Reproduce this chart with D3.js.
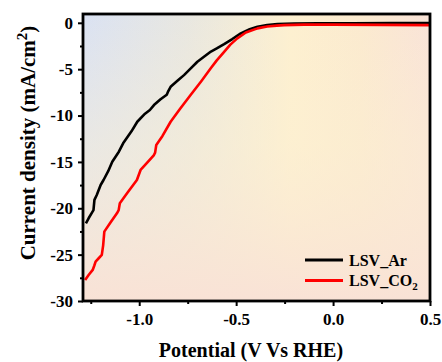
<!DOCTYPE html>
<html>
<head>
<meta charset="utf-8">
<script src="https://cdn.jsdelivr.net/npm/d3@7"></script>
<style>
  html, body { margin: 0; padding: 0; background: #ffffff; }
  svg { display: block; }
  text { font-family: "Liberation Serif", "Times New Roman", serif; font-weight: bold; fill: #000; }
</style>
</head>
<body>
<svg id="chart" width="442" height="362"></svg>
<script>
// ---- data ----
const arPotential = [-1.275, -1.261, -1.243, -1.236, -1.231, -1.219, -1.199, -1.184, -1.160, -1.139, -1.105, -1.083, -1.040, -1.010, -0.970, -0.945, -0.924, -0.890, -0.858, -0.852, -0.838, -0.800, -0.769, -0.738, -0.700, -0.666, -0.630, -0.600, -0.562, -0.520, -0.476, -0.430, -0.390, -0.340, -0.287, -0.200, -0.080, 0.100, 0.300, 0.500];
const arCurrent   = [-21.62, -21.08, -20.45, -20.20, -19.10, -18.57, -17.49, -16.95, -16.00, -14.98, -13.90, -13.00, -11.70, -10.67, -9.80, -9.40, -8.87, -8.25, -7.75, -7.45, -6.90, -6.20, -5.64, -4.99, -4.20, -3.66, -3.10, -2.76, -2.30, -1.75, -1.14, -0.70, -0.43, -0.25, -0.14, -0.08, -0.05, -0.04, -0.03, -0.03];
const co2Potential = [-1.279, -1.261, -1.240, -1.232, -1.225, -1.209, -1.193, -1.186, -1.180, -1.150, -1.115, -1.106, -1.100, -1.060, -1.012, -0.993, -0.960, -0.924, -0.918, -0.912, -0.880, -0.838, -0.790, -0.735, -0.680, -0.631, -0.600, -0.562, -0.530, -0.494, -0.450, -0.390, -0.340, -0.290, -0.253, -0.150, 0.000, 0.250, 0.500];
const co2Current   = [-27.73, -27.20, -26.65, -26.20, -25.75, -25.39, -25.03, -24.00, -22.52, -21.60, -20.54, -20.20, -19.45, -18.30, -16.95, -15.87, -15.10, -14.26, -14.00, -13.18, -12.20, -10.67, -9.30, -7.79, -6.30, -4.91, -4.05, -3.13, -2.35, -1.68, -1.05, -0.60, -0.40, -0.30, -0.25, -0.20, -0.20, -0.22, -0.25];

const seriesNames  = ["LSV_Ar", "LSV_CO2"];
const seriesColors = ["#000000", "#ff0000"];

const xMajorTicks = [-1.0, -0.5, 0.0, 0.5];
const xMinorTicks = [-1.25, -0.75, -0.25, 0.25];
const xTickLabels = ["-1.0", "-0.5", "0.0", "0.5"];
const yMajorTicks = [0, -5, -10, -15, -20, -25, -30];
const yMinorTicks = [-2.5, -7.5, -12.5, -17.5, -22.5, -27.5];
const yTickLabels = ["0", "-5", "-10", "-15", "-20", "-25", "-30"];

// ---- layout ----
const svg = d3.select("#chart");
const pL = 83, pR = 430, pT = 14, pB = 301;

const x = d3.scaleLinear().domain([-1.29, 0.5]).range([pL, pR]);
const y = d3.scaleLinear().domain([-30, 0.95]).range([pB, pT]);

// background gradients
const defs = svg.append("defs");
const gh = defs.append("linearGradient").attr("id", "gh").attr("x1", "0").attr("y1", "0").attr("x2", "1").attr("y2", "0");
[[0, "#dae2f3"], [0.3, "#e8e7e1"], [0.6, "#fdf0d0"], [0.8, "#fbeacf"], [1, "#f9e3d8"]].forEach(([o, c]) =>
  gh.append("stop").attr("offset", o).attr("stop-color", c));
const gv = defs.append("linearGradient").attr("id", "gv").attr("x1", "0").attr("y1", "0").attr("x2", "0").attr("y2", "1");
[[0, "#fdf0d2", 0], [0.45, "#fcefd2", 0.45], [1, "#f9e2d6", 1]].forEach(([o, c, a]) =>
  gv.append("stop").attr("offset", o).attr("stop-color", c).attr("stop-opacity", a));

svg.append("rect").attr("x", pL).attr("y", pT).attr("width", pR - pL).attr("height", pB - pT).attr("fill", "url(#gh)");
svg.append("rect").attr("x", pL).attr("y", pT).attr("width", pR - pL).attr("height", pB - pT).attr("fill", "url(#gv)");

defs.append("clipPath").attr("id", "clip").append("rect")
  .attr("x", pL).attr("y", pT).attr("width", pR - pL).attr("height", pB - pT);

// lines
const line = d3.line().x(d => x(d[0])).y(d => y(d[1])).curve(d3.curveLinear);
const arData = arPotential.map((v, i) => [v, arCurrent[i]]);
const co2Data = co2Potential.map((v, i) => [v, co2Current[i]]);
const g = svg.append("g").attr("clip-path", "url(#clip)");
g.append("path").datum(arData).attr("d", line).attr("fill", "none")
  .attr("stroke", seriesColors[0]).attr("stroke-width", 2.6).attr("stroke-linejoin", "round");
g.append("path").datum(co2Data).attr("d", line).attr("fill", "none")
  .attr("stroke", seriesColors[1]).attr("stroke-width", 2.6).attr("stroke-linejoin", "round");

// axes
const fmtX = d => xTickLabels[xMajorTicks.indexOf(d)];
const fmtY = d => yTickLabels[yMajorTicks.indexOf(d)];

const xAxis = svg.append("g").attr("transform", `translate(0,${pB})`)
  .call(d3.axisBottom(x).tickValues(xMajorTicks).tickFormat(fmtX).tickSize(5).tickPadding(7));
const xAxisMinor = svg.append("g").attr("transform", `translate(0,${pB})`)
  .call(d3.axisBottom(x).tickValues(xMinorTicks).tickFormat("").tickSize(3));
const yAxis = svg.append("g").attr("transform", `translate(${pL},0)`)
  .call(d3.axisLeft(y).tickValues(yMajorTicks).tickFormat(fmtY).tickSize(5).tickPadding(5));
const yAxisMinor = svg.append("g").attr("transform", `translate(${pL},0)`)
  .call(d3.axisLeft(y).tickValues(yMinorTicks).tickFormat("").tickSize(3));

[xAxis, xAxisMinor, yAxis, yAxisMinor].forEach(a => {
  a.attr("font-family", null).attr("font-size", null);
  a.select(".domain").remove();
  a.selectAll(".tick line").attr("stroke", "#000").attr("stroke-width", 2);
  a.selectAll("text").attr("font-family", "Liberation Serif, serif").attr("font-weight", "bold").attr("font-size", 17);
});

// frame
svg.append("rect").attr("x", pL).attr("y", pT).attr("width", pR - pL).attr("height", pB - pT)
  .attr("fill", "none").attr("stroke", "#000").attr("stroke-width", 2.8);

// axis titles
svg.append("text").attr("x", 251).attr("y", 357).attr("text-anchor", "middle")
  .style("font-size", "20px").text("Potential (V Vs RHE)");

const yt = svg.append("text").attr("transform", "translate(35,143) rotate(-90)").attr("text-anchor", "middle")
  .style("font-size", "21px");
yt.append("tspan").text("Current density (mA/cm");
yt.append("tspan").attr("dy", -8).style("font-size", "15px").text("2");
yt.append("tspan").attr("dy", 8).text(")");

// legend
const legY = [260, 280.5];
seriesNames.forEach((name, i) => {
  svg.append("line").attr("x1", 305).attr("x2", 343).attr("y1", legY[i]).attr("y2", legY[i])
    .attr("stroke", seriesColors[i]).attr("stroke-width", 3);
  const t = svg.append("text").attr("x", 349).attr("y", legY[i] + 5.8).style("font-size", "16px");
  if (name === "LSV_CO2") {
    t.append("tspan").text("LSV_CO");
    t.append("tspan").attr("dy", 4).style("font-size", "11px").text("2");
  } else {
    t.text(name);
  }
});
</script>
</body>
</html>
